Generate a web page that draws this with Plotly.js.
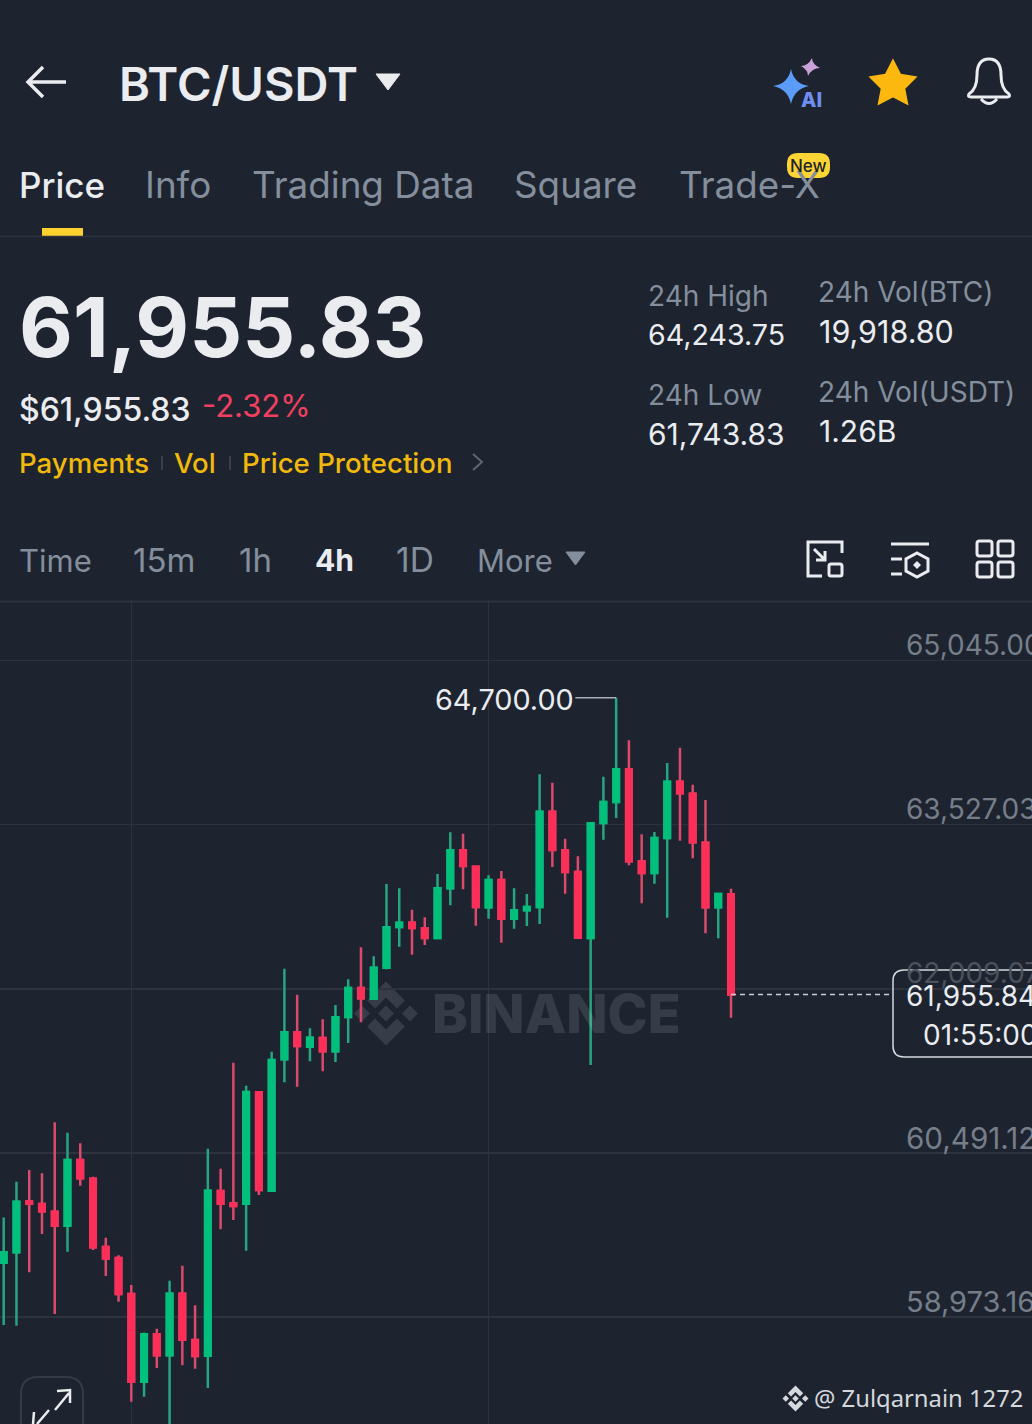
<!DOCTYPE html>
<html>
<head>
<meta charset="utf-8">
<script src="https://cdn.plot.ly/plotly-3.0.1.min.js"></script>
<style>html,body{margin:0;padding:0;background:#1d2430;overflow:hidden}#chart{width:1032px;height:1424px}</style>
</head>
<body>
<div id="chart"></div>
<script>
// ---- data ----
const open = [59477,59573,60044,60019,59948,59819,60426,60253,59622,59520,59187,58377,58815,58621,59190,58762,58617,60140,60026,60022,61052,60142,61357,61607,61474,61554,61431,61748,62016,61917,62204,62580,62620,62568,62479,62938,63289,63138,62762,63015,62657,62735,62765,63646,63289,63089,62479,63542,63736,64038,63188,63080,63403,63924,63812,63360,62762,62883];
const high = [59896,60226,60334,60303,60775,60679,60581,60272,59708,59545,59271,58833,58867,59310,59449,59083,60531,60346,61326,61113,61058,61427,62195,61954,61644,61727,61859,62097,62393,62309,62978,62938,62740,62670,63070,63456,63443,63138,63058,63098,62938,62885,63992,63914,63397,63234,63539,63970,64700,64306,63437,63459,64097,64238,63896,63754,62897,62934];
const low = [58901,58894,59388,59742,59003,59579,60189,59594,59354,59116,58192,58238,58503,57745,58528,58497,58318,59786,59872,59588,60103,60133,61145,61104,61339,61246,61332,61508,61699,61905,62189,62398,62324,62414,62476,62781,62929,62592,62657,62435,62565,62590,62608,63135,62888,62481,61305,63387,63588,63151,62799,62981,62666,63378,63215,62522,62476,61742];
const close = [59573,60041,60022,59952,59819,60426,60257,59619,59517,59187,58377,58815,58621,59190,58765,58614,60142,60022,60001,61055,60149,61351,61607,61480,61557,61431,61746,62016,61921,62204,62578,62620,62571,62479,62938,63289,63144,62765,63015,62657,62735,62765,63646,63292,63089,62481,63539,63736,64038,63188,63080,63403,63924,63816,63363,62762,62885,61955.84];
const gridPrices = [65045.00,63527.03,62009.07,60491.12,58973.16];
const gridPriceLabels = ['65,045.00','63,527.03','62,009.07','60,491.12','58,973.16'];
const gridCandles = [10,38];
const peakPrice = 64700.00, peakLabel = '64,700.00';
const lastPrice = 61955.84, lastPriceLabel = '61,955.84', countdown = '01:55:00';
const peakCandle = 48, lastCandle = 57;

// ---- palette ----
const BG='#1d2430', GRID='#2c333f', GREEN='#02c07c', RED='#fb2f58', WICKG='#27a582', WICKR='#d94a6b';
const GRAY='#848e9c', WHITE='#eaecef', GOLD='#f0b90b';
const UI='Inter';

// ---- interface helpers (page pixels, y downward) ----
const shapes=[], notes=[];
function flip(d){return d.replace(/(-?[\d.]+)[ ,]+(-?[\d.]+)/g,(m,x,y)=>x+','+(-parseFloat(y)));}
function sh(d,o){o=o||{};shapes.push({type:'path',path:flip(d),xref:'paper',yref:'paper',xsizemode:'pixel',ysizemode:'pixel',xanchor:0,yanchor:1,
  line:{color:o.line||'rgba(0,0,0,0)',width:o.w===undefined?0:o.w},fillcolor:o.fill||'rgba(0,0,0,0)',layer:o.layer||'above'});}
function rr(x0,y0,x1,y1,r){return `M${x0} ${y0+r} Q${x0} ${y0} ${x0+r} ${y0} L${x1-r} ${y0} Q${x1} ${y0} ${x1} ${y0+r} L${x1} ${y1-r} Q${x1} ${y1} ${x1-r} ${y1} L${x0+r} ${y1} Q${x0} ${y1} ${x0} ${y1-r} Z`;}
function t(text,x,y,size,color,o){o=o||{};notes.push({text,xref:'paper',yref:'paper',x:x/1032,y:1-y/1424,xanchor:o.anchor||'left',yanchor:'middle',showarrow:false,borderpad:0,
  font:{family:o.family||UI,size,color,weight:o.weight||400}});}
function logo(cx,cy,s,c,layer){
  const p=(a)=>'M'+a.map(q=>(cx+q[0]*s).toFixed(1)+' '+(cy+q[1]*s).toFixed(1)).join(' L')+' Z';
  const o={fill:c,layer};
  sh(p([[0,-1],[.59,-.41],[.34,-.16],[0,-.5],[-.34,-.16],[-.59,-.41]]),o);
  sh(p([[0,1],[.59,.41],[.34,.16],[0,.5],[-.34,.16],[-.59,.41]]),o);
  sh(p([[-1,0],[-.75,-.25],[-.5,0],[-.75,.25]]),o);
  sh(p([[1,0],[.75,-.25],[.5,0],[.75,.25]]),o);
  sh(p([[0,-.25],[.25,0],[0,.25],[-.25,0]]),o);
}

// ---- header ----
sh('M66 82 L29 82 M43 67 L28 82 L43 97',{line:'#eaecef',w:3.5});
t('BTC/USDT',118,83,47,WHITE,{weight:600});
sh('M376 74 L400 74 L388 90 Z',{fill:WHITE,line:WHITE,w:1});
// AI sparkle
sh('M791 69 Q794 84 809 86 Q794 89 791 104 Q788 89 773 86 Q788 84 791 69 Z',{fill:'#5b9cf8'});
sh('M812 58 Q812 64 820 68 Q812 68 808 76 Q808 70 801 66 Q808 66 812 58 Z',{fill:'#c9a3d8'});
t('AI',800,100,20,'#6f8ff0',{weight:800});
// star
sh('M893 60 L900.5 74.5 L916 77 L904.5 88.5 L907.5 104 L893 96.5 L878.5 104 L881.5 88.5 L870 77 L885.5 74.5 Z',{fill:'#fcb80f',line:'#fcb80f',w:1.5});
// bell
sh('M969 94 Q977 89 977 75 Q977 59 989 59 Q1001 59 1001 75 Q1001 89 1009 94 Q1011 97 1007 97 L971 97 Q967 97 969 94 Z M981 99 Q989 108 997 99',{line:'#eaecef',w:3});

// ---- tabs ----
t('Price',18,185,35,WHITE,{weight:500});
t('Info',144,185,36.8,GRAY);
t('Trading Data',251,185,36.8,GRAY);
t('Square',513,185,36.8,GRAY);
t('Trade-X',678,185,36.8,GRAY);
sh(rr(787,153,830,178,11),{fill:'#fcd535'});
t('New',808.5,166,17,'#1e2329',{anchor:'center',weight:500});
sh('M42 228 L83 228 L83 236 L42 236 Z',{fill:'#fcd02f'});
sh('M0 236.5 L1032 236.5',{line:GRID,w:1.5});

// ---- price block ----
t('61,955.83',18,327,83,WHITE,{weight:700});
t('$61,955.83',18,409,32,WHITE,{weight:500});
t('-2.32%',201,405,31,'#f0405f');
t('Payments',18,463,27.6,GOLD,{weight:500});
t('Vol',173,463,27.6,GOLD,{weight:500});
t('Price Protection',241,463,27.6,GOLD,{weight:500});
sh('M162 456 L162 470',{line:'#3a404b',w:2});
sh('M230 456 L230 470',{line:'#3a404b',w:2});
sh('M473 454 L482 462 L473 470',{line:'#5e6673',w:2});
t('24h High',647,296,28,GRAY);
t('64,243.75',647,334,28.6,WHITE);
t('24h Low',647,395,28,GRAY);
t('61,743.83',647,434,30,WHITE);
t('24h Vol(BTC)',817,292,28,GRAY);
t('19,918.80',818,331,30.5,WHITE);
t('24h Vol(USDT)',817,392,28,GRAY);
t('1.26B',818,431,30,WHITE);

// ---- interval bar ----
t('Time',18,560,31,GRAY);
t('15m',132,560,33,GRAY);
t('1h',238,560,33,GRAY);
t('4h',314,560,30,WHITE,{weight:700});
t('1D',395,560,33.5,GRAY);
t('More',476,560,31,GRAY);
sh('M566 552 L585 552 L575.5 565 Z',{fill:GRAY,line:GRAY,w:1});
// toolbar icons
sh('M822 576 L808 576 L808 542 L842 542 L842 553',{line:WHITE,w:3});
sh('M814 549 L825 560 M825 551 L825 560 L816 560',{line:WHITE,w:3});
sh(rr(829,564,842,576,2),{line:WHITE,w:3});
sh('M891 544 L929 544 M891 559 L902 559 M891 574 L902 574',{line:WHITE,w:3});
sh('M917 553 L928 559 L928 571 L917 577 L906 571 L906 559 Z',{line:WHITE,w:3});
sh('M917 561 L921 565 L917 569 L913 565 Z',{fill:WHITE});
[[977,541],[998,541],[977,562],[998,562]].forEach(q=>sh(rr(q[0],q[1],q[0]+15,q[1]+15,2.5),{line:WHITE,w:3}));
sh('M0 601.5 L1032 601.5',{line:GRID,w:2});

// ---- watermark ----
logo(386,1013.5,32,'#363c48','below');
t('BINANCE',431,1013,54,'rgba(255,255,255,0.115)',{weight:800});

// ---- price axis labels, drawn inside the plot ----
const gridLabelSizes = [28,28,28,29.6,29];
gridPrices.forEach((p,i)=>{
  notes.push({text:gridPriceLabels[i],xref:'paper',yref:'y',x:905/1032,y:p,yshift:15.5,xanchor:'left',yanchor:'middle',showarrow:false,borderpad:0,font:{family:UI,size:gridLabelSizes[i],color:i===2?'#4c525d':'#767e8a'}});
});

// ---- last price box ----
sh(rr(893,970,1060,1057,11),{line:'#d5d8dc',w:1.5});
notes.push({text:lastPriceLabel,xref:'paper',yref:'y',x:905/1032,y:lastPrice,yshift:-1,xanchor:'left',yanchor:'middle',showarrow:false,borderpad:0,font:{family:UI,size:28,color:WHITE}});
t(countdown,922,1035,28,WHITE);

// ---- peak label ----
notes.push({text:peakLabel,xref:'x',yref:'y',x:44.75,y:peakPrice,yshift:-1.5,xanchor:'right',yanchor:'middle',showarrow:false,borderpad:0,font:{family:UI,size:28.8,color:WHITE}});

// ---- bottom overlay ----
sh('M21 1424 L21 1394 Q21 1377 38 1377 L66 1377 Q83 1377 83 1394 L83 1424',{line:'#343b47',w:2});
sh('M55 1410 L69 1393 M57 1391 L70 1390 L70 1403',{line:WHITE,w:2.5});
sh('M49 1410 L37 1424 M34 1412 L33 1424',{line:WHITE,w:2.5});
logo(795.5,1398.5,13,'#d5d8dc','above');
t('@ Zulqarnain 1272',813,1398,23.8,'#d5d8dc',{family:'Noto Sans'});

// ---- traces ----
const idx = open.map((_,i)=>i);
const wicks = {type:'candlestick',x:idx,open,high,low,close,hoverinfo:'skip',showlegend:false,whiskerwidth:0,
  increasing:{line:{color:WICKG,width:2.5},fillcolor:WICKG},decreasing:{line:{color:WICKR,width:2.5},fillcolor:WICKR}};
const bodies = {type:'candlestick',x:idx,open,close,
  high:idx.map(i=>Math.max(open[i],close[i])),low:idx.map(i=>Math.min(open[i],close[i])),hoverinfo:'skip',showlegend:false,whiskerwidth:0,
  increasing:{line:{color:GREEN,width:2.5},fillcolor:GREEN},decreasing:{line:{color:RED,width:2.5},fillcolor:RED}};
const peakLine = {type:'scatter',mode:'lines',x:[44.8,peakCandle],y:[peakPrice,peakPrice],line:{color:'#a9afb8',width:1.5},hoverinfo:'skip',showlegend:false};
const lastLine = {type:'scatter',mode:'lines',x:[lastCandle,69.6],y:[lastPrice,lastPrice],line:{color:'#c8ccd2',width:1.5,dash:'5px,4px'},hoverinfo:'skip',showlegend:false};

Plotly.newPlot('chart',[lastLine,peakLine,wicks,bodies],{
  width:1032,height:1424,autosize:false,margin:{l:0,r:0,t:0,b:0,pad:0},
  paper_bgcolor:BG,plot_bgcolor:BG,showlegend:false,boxmode:'overlay',boxgap:0.38,dragmode:false,hovermode:false,
  xaxis:{type:'linear',domain:[0,1],range:[-0.29,80.59],tickmode:'array',tickvals:gridCandles,showticklabels:false,ticks:'',showgrid:true,gridcolor:GRID,gridwidth:1.5,zeroline:false,showline:false,rangeslider:{visible:false},fixedrange:true},
  yaxis:{type:'linear',domain:[0,822/1424],range:[57986,65585],tickmode:'array',tickvals:gridPrices,showticklabels:false,ticks:'',showgrid:true,gridcolor:GRID,gridwidth:1.5,zeroline:false,showline:false,fixedrange:true},
  shapes,annotations:notes
},{displayModeBar:false,staticPlot:true});
</script>
</body>
</html>
